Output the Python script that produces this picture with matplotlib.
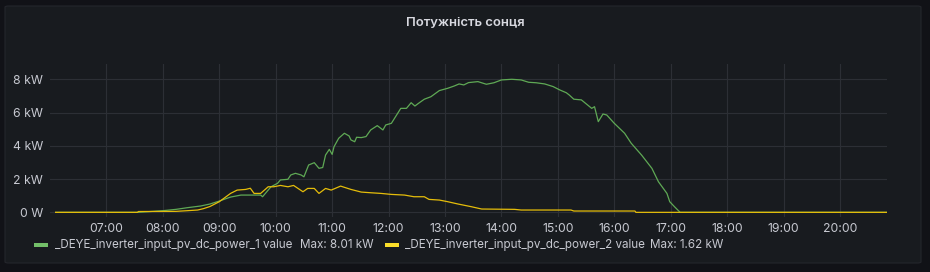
import numpy as np
import matplotlib
matplotlib.use("Agg")
import matplotlib.pyplot as plt
import matplotlib.dates as mdates
from matplotlib.patches import FancyBboxPatch, Rectangle
from matplotlib.ticker import FuncFormatter

# series 1: _DEYE_inverter_input_pv_dc_power_1 (kW)
pv1_time = ["06:06", "07:33", "07:47", "08:00", "08:14", "08:26", "08:40", "08:50",
            "09:00", "09:12", "09:23", "09:44", "09:46", "09:52", "09:55", "10:02",
            "10:05", "10:13", "10:16", "10:21", "10:27", "10:30", "10:35", "10:41",
            "10:46", "10:50", "10:53", "10:57", "11:00", "11:02", "11:07", "11:13",
            "11:18", "11:20", "11:24", "11:26", "11:31", "11:36", "11:41", "11:48",
            "11:54", "11:57", "12:03", "12:13", "12:19", "12:24", "12:28", "12:32",
            "12:38", "12:45", "12:54", "13:03", "13:10", "13:15", "13:20", "13:25",
            "13:35", "13:44", "13:52", "14:00", "14:11", "14:21", "14:29", "14:37",
            "14:46", "14:55", "15:02", "15:09", "15:12", "15:17", "15:25", "15:36",
            "15:39", "15:43", "15:48", "15:52", "16:00", "16:11", "16:18", "16:29",
            "16:40", "16:47", "16:56", "16:59", "17:04", "17:10", "20:50"]
pv1_kw = [0, 0, 0.05, 0.1, 0.18, 0.28, 0.38, 0.5,
          0.68, 0.92, 1.04, 1.04, 0.94, 1.34, 1.54, 1.75,
          1.95, 1.99, 2.25, 2.35, 2.25, 2.14, 2.85, 2.99,
          2.65, 2.7, 3.45, 3.79, 3.49, 3.95, 4.46, 4.76,
          4.6, 4.36, 4.25, 4.52, 4.5, 4.56, 4.96, 5.22,
          4.96, 5.26, 5.36, 6.26, 6.26, 6.6, 6.4, 6.57,
          6.81, 6.96, 7.33, 7.47, 7.61, 7.73, 7.67, 7.81,
          7.87, 7.71, 7.8, 7.97, 8.01, 7.97, 7.83, 7.8,
          7.73, 7.57, 7.37, 7.2, 7.07, 6.81, 6.77, 6.26,
          6.36, 5.46, 5.92, 5.86, 5.36, 4.76, 4.16, 3.45,
          2.65, 1.84, 1.14, 0.64, 0.34, 0.0, 0.0]

# series 2: _DEYE_inverter_input_pv_dc_power_2 (kW)
pv2_time = ["06:06", "07:33", "07:34", "08:14", "08:26", "08:37", "08:43", "08:50",
            "09:00", "09:12", "09:19", "09:28", "09:33", "09:37", "09:44", "09:52",
            "09:58", "10:05", "10:13", "10:19", "10:29", "10:34", "10:41", "10:46",
            "10:53", "10:59", "11:09", "11:20", "11:31", "11:41", "11:52", "12:03",
            "12:17", "12:27", "12:38", "12:43", "12:54", "13:03", "13:14", "13:28",
            "13:39", "14:14", "14:21", "15:14", "15:17", "16:22", "16:23", "20:50"]
pv2_kw = [0, 0, 0.05, 0.06, 0.1, 0.14, 0.22, 0.35,
          0.64, 1.14, 1.34, 1.38, 1.45, 1.14, 1.14, 1.54,
          1.54, 1.62, 1.54, 1.62, 1.24, 1.44, 1.44, 1.14,
          1.44, 1.34, 1.58, 1.38, 1.22, 1.18, 1.14, 1.08,
          1.04, 0.94, 0.94, 0.78, 0.74, 0.64, 0.5, 0.34,
          0.2, 0.18, 0.14, 0.14, 0.08, 0.08, 0.0, 0.0]

labels = ["_DEYE_inverter_input_pv_dc_power_1 value",
          "_DEYE_inverter_input_pv_dc_power_2 value"]

day = "2023-06-01T"
t1 = np.array([day + s for s in pv1_time], dtype="datetime64[m]")
t2 = np.array([day + s for s in pv2_time], dtype="datetime64[m]")

txt = "#c7c9d1"
green = "#73bf69"
yellow = "#fade2a"

plt.rcParams['font.family'] = ['Inter', 'DejaVu Sans']

W, H = 930, 272
fig = plt.figure(figsize=(W / 100, H / 100), dpi=100, facecolor="#111217")

# panel background
panel = FancyBboxPatch((5 / W, 1 - 263 / H), 916 / W, 257 / H,
                       boxstyle="round,pad=0,rounding_size=0.004",
                       transform=fig.transFigure, facecolor="#181b1f",
                       edgecolor="#24262c", lw=0.8, zorder=-5)
fig.patches.append(panel)

fig.text(465 / W, 1 - 22.5 / H, "Потужність сонця", ha="center", va="center",
         color="#d8d9e0", fontsize=9.4, fontweight="semibold")

ax = fig.add_axes([50 / W, 1 - 217 / H, 837 / W, 153 / H])
ax.set_zorder(2)
ax.set_facecolor("none")
ax.plot(t1, pv1_kw, color="#5fa955", lw=0.9, zorder=3)
ax.plot(t2, pv2_kw, color="#e5bd0a", lw=0.9, zorder=4)

ax.set_xlim(np.datetime64(day + "06:00"), np.datetime64(day + "20:50"))
ax.set_ylim(-0.28, 8.93)
ax.set_yticks([0, 2, 4, 6, 8])
ax.yaxis.set_major_formatter(FuncFormatter(lambda v, p: "0 W" if v == 0 else f"{v:.0f} kW"))
ax.xaxis.set_major_locator(mdates.HourLocator(byhour=range(7, 21)))
ax.xaxis.set_major_formatter(mdates.DateFormatter("%H:%M"))

ax.grid(True, color="#2c2f35", lw=0.8)
ax.set_axisbelow(True)
for s in ax.spines.values():
    s.set_visible(False)
ax.tick_params(length=0, colors=txt, labelsize=8.8)
ax.tick_params(axis="y", pad=5)
ax.tick_params(axis="x", pad=4)

# legend
ly = 1 - 245 / H
legend_items = [(34, 55, 300, green, labels[0], max(pv1_kw)),
                (385, 405, 650, yellow, labels[1], max(pv2_kw))]
for sx, tx, mxx, col, lab, mx in legend_items:
    fig.patches.append(Rectangle((sx / W, ly - 1.5 / H), 14 / W, 3.5 / H,
                                 transform=fig.transFigure, facecolor=col, edgecolor="none"))
    fig.text(tx / W, ly, lab, ha="left", va="center", color=txt, fontsize=8.4)
    fig.text(mxx / W, ly, f"Max: {mx:.2f} kW", ha="left", va="center", color=txt, fontsize=8.4)

fig.savefig("out.png", dpi=100, facecolor=fig.get_facecolor())
